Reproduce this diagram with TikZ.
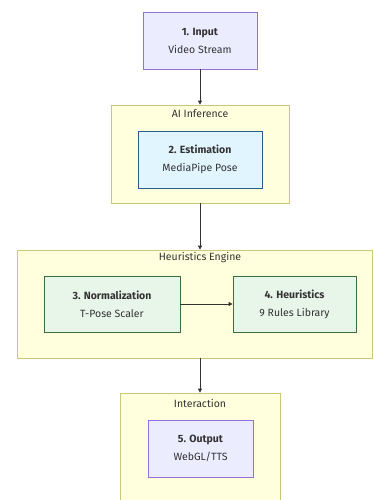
\documentclass[tikz,border=0pt]{standalone}
\usepackage{fontspec}
\setmainfont{Fira Sans}
\usepackage{xcolor}
\usepackage{tikz}
\usetikzlibrary{arrows.meta}
\definecolor{grpfill}{HTML}{FFFFDE}
\definecolor{grpline}{HTML}{C8C878}
\definecolor{lavfill}{HTML}{ECECFF}
\definecolor{lavline}{HTML}{9370DB}
\definecolor{bluefill}{HTML}{E1F5FE}
\definecolor{blueline}{HTML}{2B5F8A}
\definecolor{greenfill}{HTML}{E8F5E9}
\definecolor{greenline}{HTML}{3B6E3E}
\definecolor{ink}{HTML}{333333}

\begin{document}
\begin{tikzpicture}[x=1pt,y=-1pt,
  box/.style={draw, line width=0.8pt, align=center, inner sep=0pt, text=ink,
    font=\fontsize{10.5}{18}\selectfont},
  grp/.style={draw=grpline, fill=grpfill, line width=0.7pt, inner sep=0pt},
  grptitle/.style={text=ink, font=\fontsize{10.5}{12}\selectfont},
  link/.style={draw=ink, line width=0.8pt, -{Triangle[length=4pt,width=4pt]}}]
\useasboundingbox (0,0) rectangle (374,500);
\fill[white] (0,0) rectangle (374,500);
\clip (0,0) rectangle (374,500);
\node[grp, minimum width=178, minimum height=98] (ai) at (200,154) {};
\node[grp, minimum width=355, minimum height=108] (heur) at (194.5,304) {};
\node[grp, minimum width=160, minimum height=114] (inter) at (200,450) {};
\node[grptitle] (aititle) at (200,114) {AI Inference};
\node[grptitle] (heurtitle) at (200,258) {Heuristics Engine};
\node[grptitle] (intertitle) at (200,403) {Interaction};
\node[box, draw=lavline, fill=lavfill, minimum width=114, minimum height=57] (input) at (200,40.5) {\textbf{1. Input}\\Video Stream};
\node[box, draw=blueline, fill=bluefill, minimum width=124, minimum height=57] (estim) at (200,159.5) {\textbf{2. Estimation}\\MediaPipe Pose};
\node[box, draw=greenline, fill=greenfill, minimum width=136, minimum height=56] (norm) at (112,304) {\textbf{3. Normalization}\\T-Pose Scaler};
\node[box, draw=greenline, fill=greenfill, minimum width=123, minimum height=56] (rules) at (294.5,304) {\textbf{4. Heuristics}\\9 Rules Library};
\node[box, draw=lavline, fill=lavfill, minimum width=105, minimum height=57] (output) at (200.5,448.5) {\textbf{5. Output}\\WebGL/TTS};
\draw[link] (input) -- (ai);
\draw[link] (ai.south) -- (ai.south |- heur.north);
\draw[link] (ai.south |- heur.south) -- (inter);
\draw[link] (norm) -- (rules);
\end{tikzpicture}
\end{document}
